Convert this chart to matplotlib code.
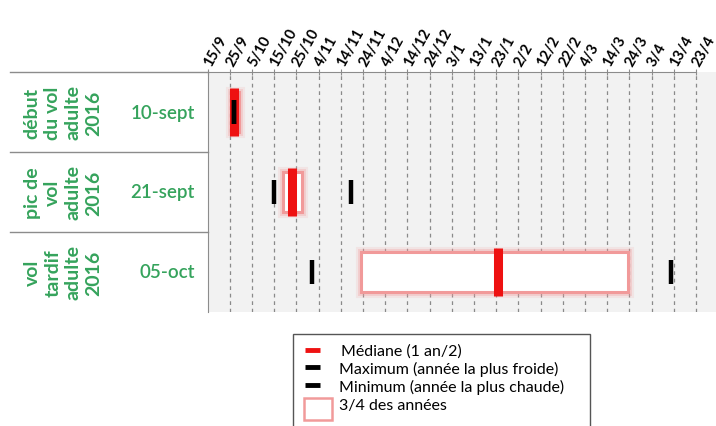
import matplotlib
matplotlib.use("Agg")
import matplotlib.pyplot as plt
import matplotlib.transforms as mtransforms
from matplotlib.patches import Rectangle
from matplotlib.lines import Line2D

plt.rcParams["font.family"] = ["Lato", "DejaVu Sans"]

# x axis: days counted from 15/9, one tick every 10 days
tick_days = list(range(0, 230, 10))
tick_labels = ["15/9", "25/9", "5/10", "15/10", "25/10", "4/11", "14/11", "24/11",
               "4/12", "14/12", "24/12", "3/1", "13/1", "23/1", "2/2", "12/2",
               "22/2", "4/3", "14/3", "24/3", "3/4", "13/4", "23/4"]

# rows
stage_labels = ["début\ndu vol\nadulte\n2016", "pic de\nvol\nadulte\n2016",
                "vol\ntardif\nadulte\n2016"]
stage_dates = ["10-sept", "21-sept", "05-oct"]

# values in days after 15/9
median = [12, 38, 131]
q_low = [10.5, 34, 69]
q_high = [14, 42.5, 189.5]
minimum = [12, 30, 47]
maximum = [12, 64.5, 209]

GREEN = "#35a35c"
RED = "#ee1111"
PINK = "#f19a9a"
LINE = "#8c8c8c"

W, H = 716, 427
fig = plt.figure(figsize=(W / 100, H / 100), dpi=100)
x0, x1, y0, y1 = 207.5, 716, 73, 313
ax = fig.add_axes([x0 / W, 1 - y1 / H, (x1 - x0) / W, (y1 - y0) / H])
ax.set_facecolor("#f2f2f2")
ax.set_xlim(0, (x1 - x0) / 2.22)
ax.set_ylim(3, 0)

for d in tick_days[1:]:
    ax.axvline(d, color="#8a8a8a", lw=0.9, ls=(0, (3, 3)), zorder=1)

for sp in ["right", "bottom"]:
    ax.spines[sp].set_visible(False)
ax.spines["left"].set_color(LINE)
ax.spines["top"].set_color(LINE)
ax.spines["top"].set_bounds(0, 220)

ax.xaxis.tick_top()
ax.set_xticks(tick_days)
ax.set_xticklabels(tick_labels, rotation=61, ha="left", va="center",
                   rotation_mode="anchor", fontsize=10.5, fontweight="bold")
ax.tick_params(axis="x", direction="inout", length=5, color=LINE, pad=3)
ax.set_yticks([])

for i in range(3):
    yc = i + 0.5
    # 3/4 des années box with soft pink glow
    for lw, a in [(8, 0.15), (5, 0.3)]:
        ax.add_patch(Rectangle((q_low[i], yc - 0.245), q_high[i] - q_low[i], 0.49,
                               fc="none", ec=PINK, lw=lw, alpha=a, zorder=2))
    ax.add_patch(Rectangle((q_low[i], yc - 0.245), q_high[i] - q_low[i], 0.49,
                           fc="white", ec=PINK, lw=2.2, zorder=3))
    ax.vlines(median[i], yc - 0.305, yc + 0.305, color=RED, lw=6.5, zorder=4)
    ax.vlines([minimum[i], maximum[i]], yc - 0.155, yc + 0.155, color="black",
              lw=3.2, zorder=5)

# left table
tr = mtransforms.blended_transform_factory(fig.transFigure, ax.transData)
for yl in [0, 1, 2]:
    fig.add_artist(Line2D([10 / W, x0 / W], [yl, yl], transform=tr, color=LINE, lw=1))
for i in range(3):
    fig.text(63 / W, i + 0.5, stage_labels[i], transform=tr, rotation=90,
             ha="center", va="center", multialignment="center", color=GREEN,
             fontsize=14, fontweight="bold", linespacing=1.25)
    fig.text(195 / W, i + 0.5, stage_dates[i], transform=tr, ha="right",
             va="center", color=GREEN, fontsize=13.5, fontweight="semibold")

# legend, drawn in pixel coordinates
lg = fig.add_axes([0, 0, 1, 1], facecolor="none")
lg.set_xlim(0, W)
lg.set_ylim(H, 0)
lg.axis("off")
lg.add_patch(Rectangle((293, 335), 297, 100, fc="white", ec="#555555", lw=1))
legend_items = ["Médiane (1 an/2)", "Maximum (année la plus froide)",
                "Minimum (année la plus chaude)", "3/4 des années"]
legend_y = [352, 369, 387, 406]
legend_colors = [RED, "black", "black"]
for k in range(3):
    lg.plot([305, 320], [legend_y[k] - 1, legend_y[k] - 1], color=legend_colors[k],
            lw=3.5, solid_capstyle="butt")
lg.add_patch(Rectangle((304, 399), 28, 22, fc="white", ec=PINK, lw=1.8))
for k, txt in enumerate(legend_items):
    lg.text(339 if k else 341, legend_y[k], txt, ha="left", va="center", fontsize=11.5)

fig.savefig("out.png", dpi=100)
